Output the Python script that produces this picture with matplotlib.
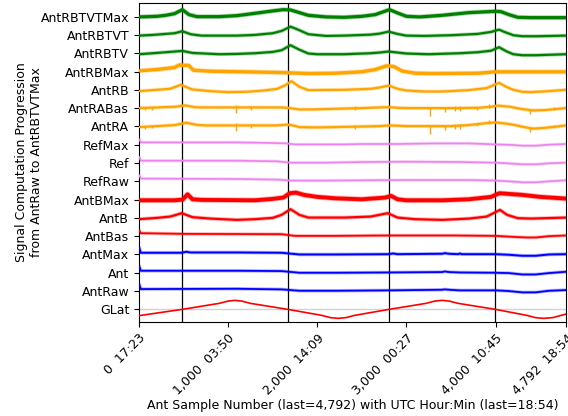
import numpy as np
import matplotlib.pyplot as plt

# Each signal: (sample number, offset) pairs, offsets in display units (1 row = 18.3)
glat = [(0, -6.3), (486, 0), (900, 6), (1000, 8.3), (1075, 9), (1150, 8.3), (1250, 6),
        (1669, 0), (2050, -6), (2150, -8.3), (2235, -9), (2320, -8.3), (2420, -6),
        (2806, 0), (3220, 6), (3320, 8.3), (3400, 9), (3480, 8.3), (3580, 6),
        (3999, 0), (4350, -6), (4450, -8.3), (4540, -9), (4640, -8.3), (4792, -4.7)]
ant_raw = [(0, 7.7), (20, 2), (1100, 2.3), (1600, 1.7), (1800, 0.3), (2200, 0.3), (2800, 0.7),
           (3400, 1.3), (3430, 1.7), (3480, 1.3), (3600, 0.7), (4000, 0.7), (4150, 0),
           (4300, -1.3), (4450, -1.3), (4600, 0.3), (4792, 1)]
ant = [(0, 7.7), (20, 2), (1100, 2), (1600, 1.7), (1800, 0), (2200, 0), (2800, 0.3),
       (3400, 0.7), (3430, 1.3), (3480, 0.7), (3600, 0.3), (4000, 0), (4150, -0.3),
       (4300, -1.7), (4450, -1.7), (4600, -0.3), (4792, 1)]
ant_max = [(0, 7.7), (20, 1.7), (480, 1.7), (530, 2.7), (580, 2), (1100, 2), (1600, 1.7),
           (1800, 0), (2200, 0), (2800, 0.3), (2850, 1), (2900, 0.3), (3400, 0.7),
           (3430, 1.3), (3480, 0.7), (3580, 0.3), (3600, 1), (3620, 0.3), (4000, 0.3),
           (4150, -0.3), (4300, -1.3), (4450, -1.3), (4600, 0), (4792, 0.3)]
ant_bas = [(0, 6.3), (20, 3), (500, 2.3), (1600, 2), (1750, 0.3), (2200, 0.3), (2800, 0.7),
           (3500, 0.7), (4000, 0.3), (4200, -0.7), (4350, -1.3), (4450, -1.3), (4600, 0),
           (4792, 0.7)]
ant_b = [(0, -1.3), (200, 0), (350, 1.3), (480, 4.7), (600, 0.7), (800, -0.7), (1100, -2),
         (1300, -1.3), (1500, 0), (1600, 3), (1700, 8.7), (1800, 3), (1900, 0.3), (2300, 0.3),
         (2600, 1.3), (2790, 4.7), (2900, 0.3), (3100, -1.3), (3400, -2), (3700, -0.7),
         (3900, 1.3), (4050, 8), (4130, 3), (4250, -0.3), (4400, -0.7), (4792, 0.3)]
ant_bmax = [(0, -0.7), (400, -0.7), (490, 0), (545, 5.3), (600, 0.3), (700, -0.3), (1300, -0.7),
            (1500, 0.7), (1620, 2), (1690, 6.3), (1760, 7), (1850, 4.7), (2000, 2.7),
            (2200, 1.3), (2500, 0.3), (2760, 2), (2830, 3.7), (2900, 0.3), (3000, -0.7),
            (3400, -0.7), (3700, 0.3), (3950, 2.7), (4040, 6.3), (4100, 6), (4300, 4.7),
            (4500, 2.7), (4792, 1)]
ref_raw = [(0, 6.7), (20, 2.7), (1100, 2.3), (1550, 1.7), (1700, 0.7), (2100, 0.7), (2500, 1),
           (3000, 1.3), (3700, 1.3), (4000, 0.7), (4200, -0.3), (4300, -1), (4450, -1),
           (4600, 0), (4792, 1)]
ref = [(0, 6.7), (20, 2.3), (1100, 2.3), (1550, 1.7), (1700, 0.3), (2100, 0.3), (2500, 1),
       (3000, 1.3), (3600, 1), (4000, 0.3), (4200, -0.7), (4300, -1.3), (4450, -1.3),
       (4600, -0.3), (4792, 0.3)]
ref_max = [(0, 6), (20, 2.3), (1100, 2.3), (1500, 1.7), (1650, 1.3), (1750, 0.3), (2300, 0.3),
           (2500, 0.7), (2900, 0.7), (3300, 1.3), (3700, 1.3), (4000, 0.3), (4200, -0.3),
           (4300, -1), (4450, -1), (4600, 0), (4792, 0.7)]
ant_ra = [(0, -0.7), (200, 0.3), (400, 1.3), (530, 3.7), (650, 1.5), (750, 1), (1550, 1),
          (1650, 1.7), (1700, 1.5), (1800, -0.7), (2000, -1), (2400, -0.3), (2700, 0.3),
          (2800, 1), (2900, 0.7), (3000, 0.3), (3500, 0.3), (3700, 1.3), (3900, 3.3),
          (4000, 4), (4100, 3), (4200, 1.7), (4300, -0.3), (4420, -2.3), (4550, -1.5),
          (4700, 0), (4792, 1)]
ant_ra_bas = [(0, 0), (300, 1), (400, 1.3), (520, 2.7), (620, 1), (700, 0.7), (1600, 0.7),
              (1690, 0), (1800, -1.3), (1950, -1.3), (2200, -0.7), (2500, 0), (2800, 1),
              (2900, 0.3), (3000, 0), (3600, 0), (3800, 0.3), (3950, 1.3), (4020, 2.5),
              (4150, 1.5), (4300, -1), (4420, -2.3), (4550, -2), (4700, -0.7), (4792, 0)]
ant_rb = [(0, -1.3), (200, 0), (350, 1), (470, 5), (600, 0.3), (800, -1.3), (1000, -2.3),
          (1200, -2), (1400, -0.7), (1550, 1), (1650, 5), (1710, 8.7), (1800, 3), (1900, -0.3),
          (2300, 0), (2600, 1), (2700, 2.3), (2800, 4.3), (2900, 1), (3000, -0.7), (3200, -1.7),
          (3400, -1.7), (3700, -0.3), (3900, 1.7), (4040, 7), (4120, 3), (4200, 0), (4300, -2),
          (4400, -2.3), (4600, -1.3), (4792, 0)]
ant_rb_max = [(0, 0.7), (200, 2), (400, 4), (450, 6.5), (560, 6), (610, 1.3), (800, 0.3),
              (1200, -0.3), (1600, -1), (1900, -2), (2200, -1.7), (2500, -0.3), (2650, 2),
              (2780, 5.7), (2860, 5), (2950, 0.5), (3100, -1.7), (3300, -2), (3800, -1.7),
              (4000, -0.3), (4792, -0.3)]
ant_rbtv = [(0, -1), (200, 0.3), (400, 1.7), (486, 2.3), (600, 0.3), (900, -1), (1100, -0.7),
            (1300, 0), (1500, 1.3), (1600, 3), (1700, 8), (1800, 3.5), (1900, -0.3), (2000, -1),
            (2300, -1), (2600, 0), (2700, 0.7), (2800, 1.7), (2900, 0.7), (3000, -0.3),
            (3250, -1), (3600, 0), (3800, 1), (3950, 2.5), (4040, 6), (4120, 2), (4200, -1),
            (4300, -2), (4450, -2), (4792, -1)]
ant_rbtvt = [(0, -0.7), (150, 0), (300, 1), (400, 1.7), (486, 3.7), (580, 0.7), (700, -0.7),
             (1100, -0.7), (1300, 0), (1500, 1.7), (1600, 4), (1700, 8.3), (1800, 4.7),
             (1900, 0.7), (2100, -1), (2300, -0.7), (2600, 0.3), (2700, 1.3), (2800, 3.3),
             (2900, 1), (3000, -0.7), (3200, -1), (3500, -0.3), (3800, 1), (3950, 3),
             (4040, 5.3), (4100, 3), (4200, -0.3), (4300, -1.3), (4450, -1.3), (4792, -0.7)]
ant_rbtvt_max = [(0, -0.3), (200, 0.3), (300, 1.3), (400, 3), (486, 7), (560, 2), (650, 0),
                 (900, 0), (1100, 1), (1300, 3.3), (1500, 5.7), (1620, 7), (1700, 6.7),
                 (1800, 4), (1900, 1.3), (2100, -0.3), (2300, -0.7), (2500, 0.3), (2650, 2),
                 (2810, 7), (2900, 3.7), (3000, 0.3), (3150, -0.3), (3400, 1.3), (3700, 4),
                 (4000, 5.3), (4060, 5), (4150, 2), (4250, -0.7), (4400, -1), (4792, -1)]

# glitches seen in the AntRA stages
spike_samples = [70, 150, 1093, 1262, 2422, 3265, 3433, 3550, 3600, 3790, 3927, 4388, 4661]
spike_down = [2, 2, 6, 3, 2, 8, 4, 3, 3, 2, 1, 4, 1]
spike_up = [1, 1, 2, 1, 2, 1, 1, 2, 2, 1, 3, 1, 2]

# galactic plane crossings (GLat = 0)
crossing_samples = [486, 1669, 2806, 3999]

tick_samples = [0, 1000, 2000, 3000, 4000, 4792]
tick_times = ['17:23', '03:50', '14:09', '00:27', '10:45', '18:54']

trace_names = ['GLat', 'AntRaw', 'Ant', 'AntMax', 'AntBas', 'AntB', 'AntBMax',
               'RefRaw', 'Ref', 'RefMax', 'AntRA', 'AntRABas', 'AntRB', 'AntRBMax',
               'AntRBTV', 'AntRBTVT', 'AntRBTVTMax']
trace_data = [glat, ant_raw, ant, ant_max, ant_bas, ant_b, ant_bmax,
              ref_raw, ref, ref_max, ant_ra, ant_ra_bas, ant_rb, ant_rb_max,
              ant_rbtv, ant_rbtvt, ant_rbtvt_max]
trace_colors = ['red', 'blue', 'blue', 'blue', 'red', 'red', 'red',
                'violet', 'violet', 'violet', 'orange', 'orange', 'orange', 'orange',
                'green', 'green', 'green']
trace_widths = [1.2, 1.3, 1.3, 1.4, 1.3, 1.6, 2.8,
                1.2, 1.2, 1.2, 1.6, 1.6, 1.6, 2.4,
                1.6, 1.6, 2.3]

gain = 1 / 18.3

fig = plt.figure(figsize=(5.68, 4.16), dpi=100)
ax = fig.add_axes([0.2447, 0.226, 0.752, 0.767])

for xs in crossing_samples:
    ax.axvline(xs, color='black', linewidth=0.9, zorder=1)
ax.axhline(0, color='lightgray', linewidth=1, zorder=0)

for i, (name, data) in enumerate(zip(trace_names, trace_data)):
    s, v = np.array(data, dtype=float).T
    y = i + v * gain
    color = trace_colors[i]
    lw = trace_widths[i]
    if name != 'GLat':
        ax.plot(s, y, color=color, linewidth=lw + 1.2, alpha=0.3, solid_capstyle='butt', zorder=2)
    ax.plot(s, y, color=color, linewidth=lw, solid_capstyle='butt', zorder=3)
    if name in ('AntRA', 'AntRABas'):
        base = i + np.interp(spike_samples, s, v) * gain
        ax.vlines(spike_samples, base - np.array(spike_down) * gain,
                  base + np.array(spike_up) * gain, color=color, linewidth=1.0, zorder=3)

ax.set_xlim(0, 4792)
ax.set_ylim(-0.69, 16.75)
ax.set_yticks(range(len(trace_names)))
ax.set_yticklabels(trace_names, fontsize=9)
ax.set_xticks(tick_samples)
ax.set_xticklabels([f'{n:,}  {t}' for n, t in zip(tick_samples, tick_times)],
                   rotation=45, ha='right', rotation_mode='anchor', fontsize=9)
ax.set_xlabel('Ant Sample Number (last=4,792) with UTC Hour:Min (last=18:54)',
              fontsize=9, labelpad=1)
ax.set_ylabel('Signal Computation Progression\nfrom AntRaw to AntRBTVTMax',
              fontsize=9, labelpad=-1.5)

fig.savefig('out.png', dpi=100)
